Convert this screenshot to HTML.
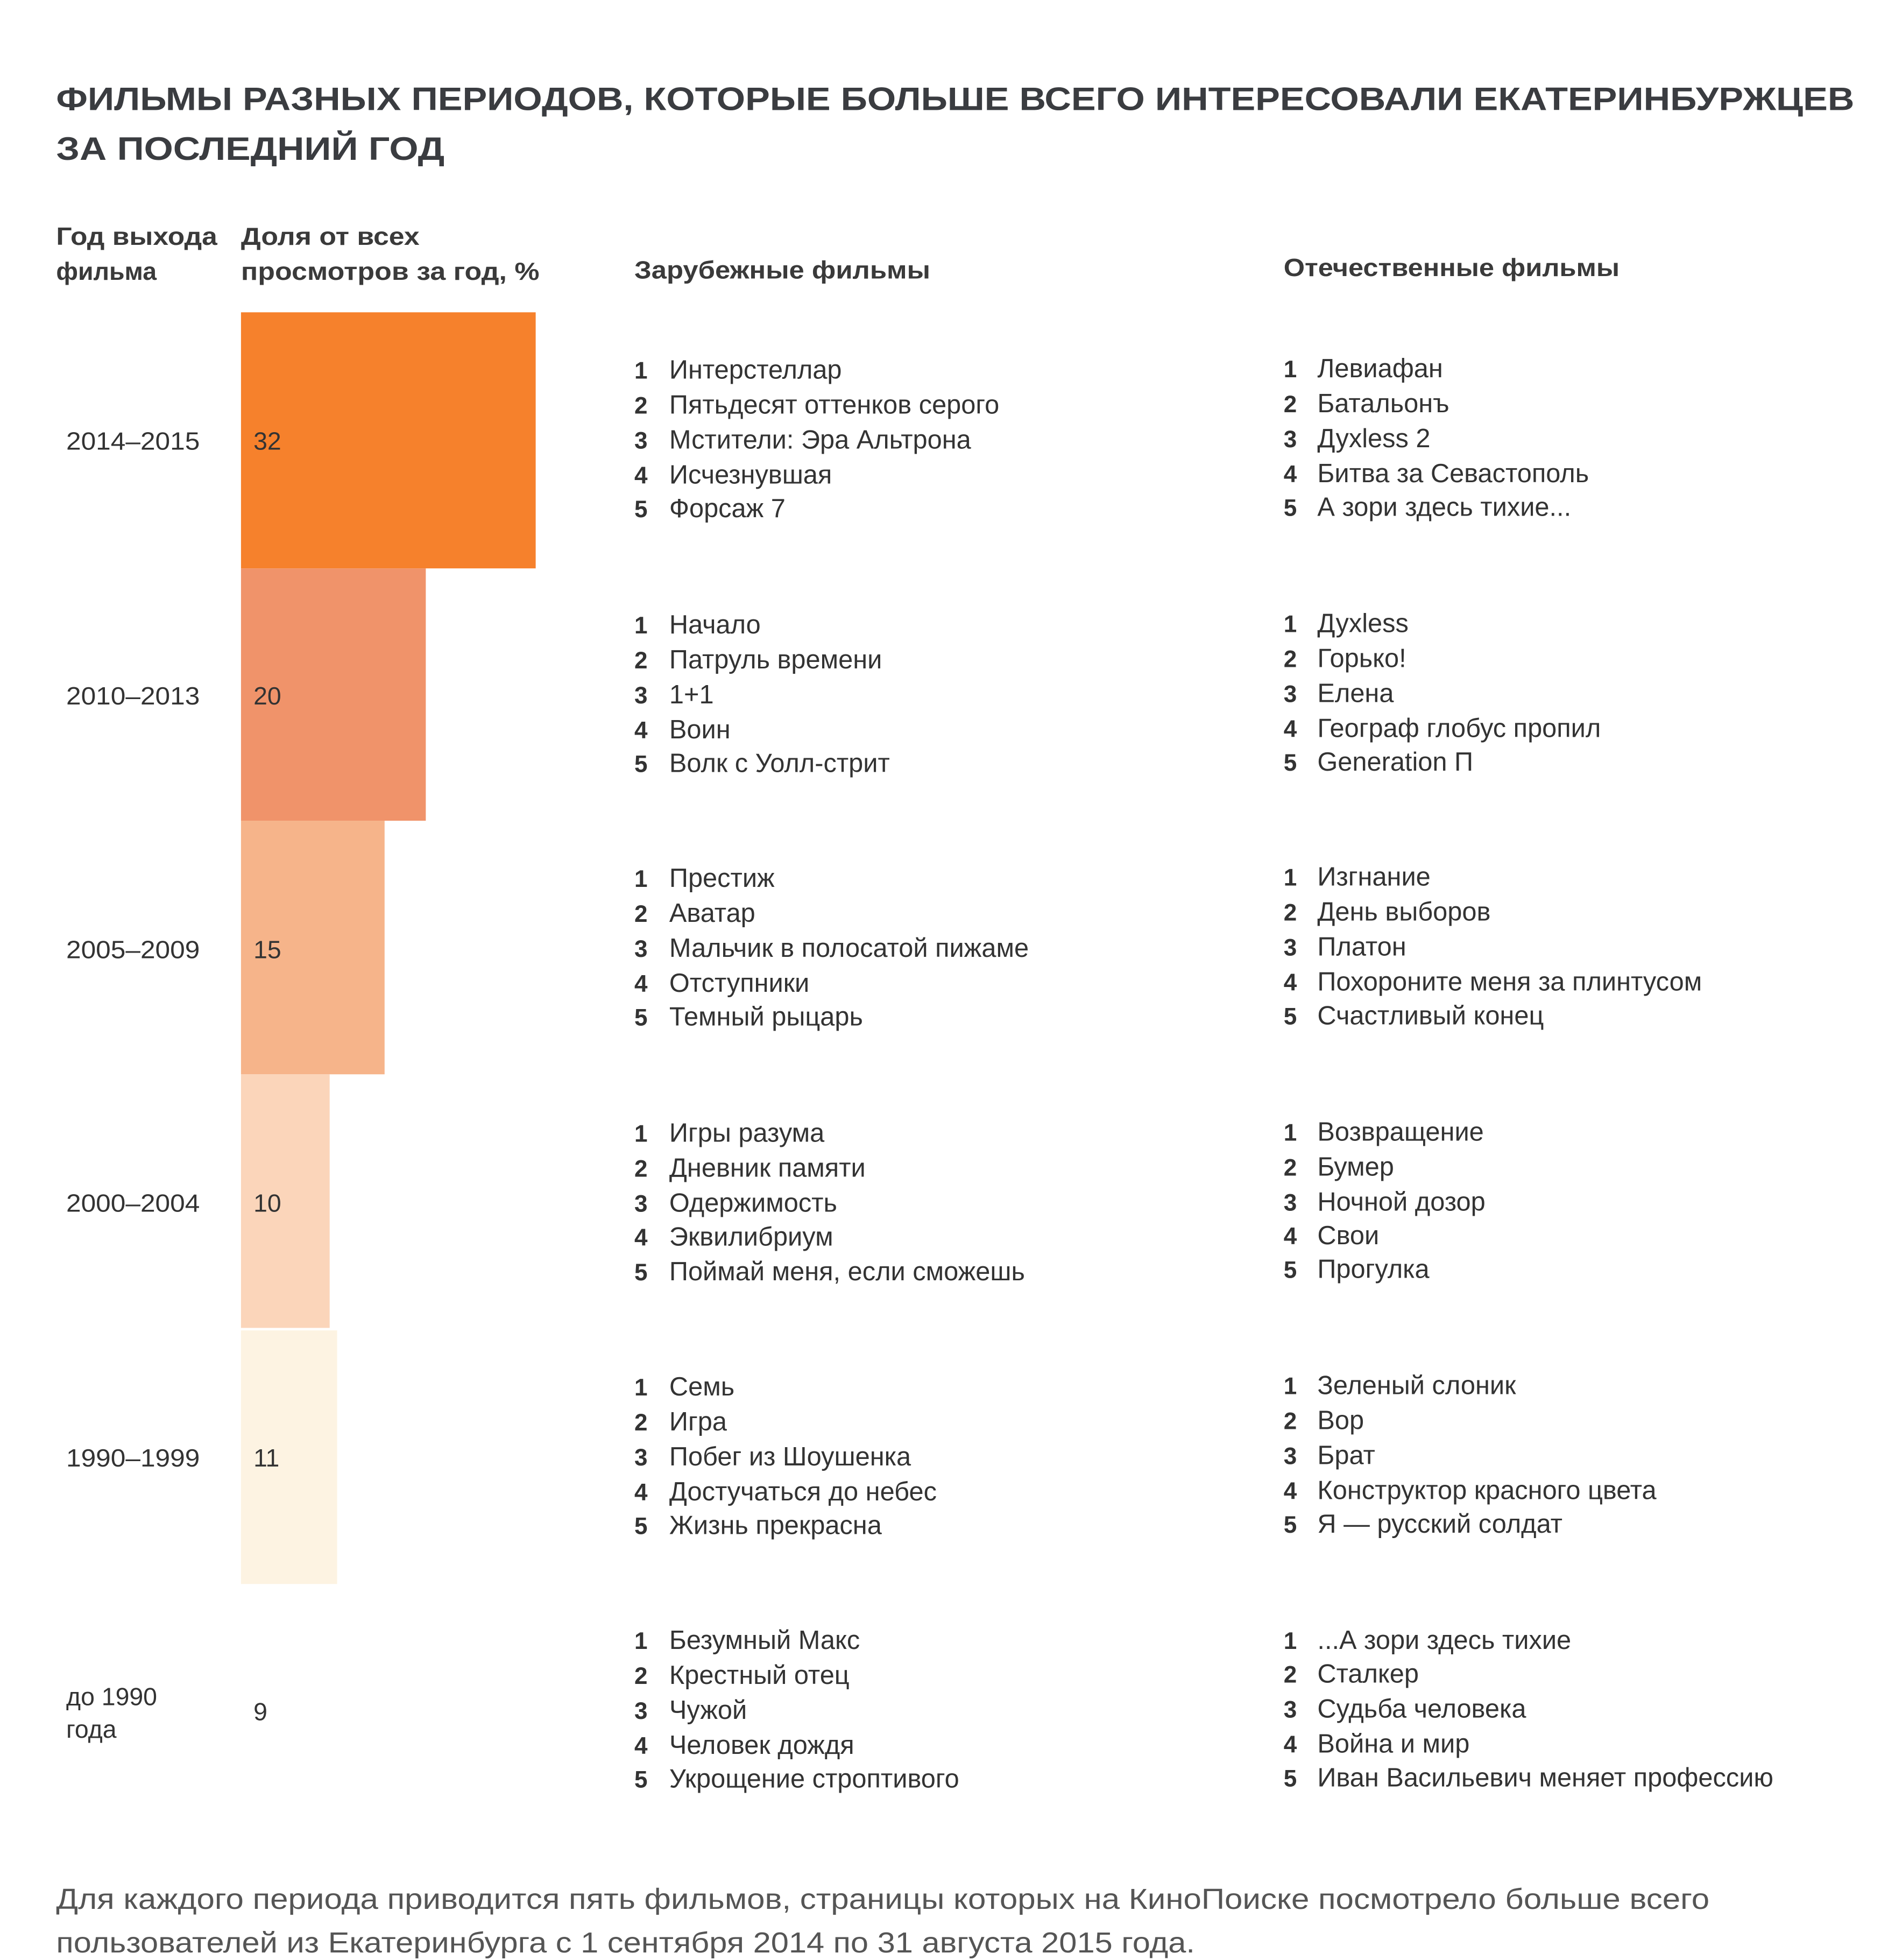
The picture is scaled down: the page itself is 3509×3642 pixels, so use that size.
<!DOCTYPE html>
<html><head><meta charset="utf-8"><style>html,body{margin:0;padding:0;background:#fff}svg{display:block}</style></head>
<body>
<svg width="3509" height="3642" viewBox="0 0 1512 1569" preserveAspectRatio="none" xmlns="http://www.w3.org/2000/svg" font-family="'Liberation Sans', 'DejaVu Sans', sans-serif">
<rect width="1512" height="1569" fill="#fff"/>
<g fill="#3a3c40" font-weight="bold" font-size="26">
<text x="45" y="88" textLength="1440" lengthAdjust="spacingAndGlyphs">ФИЛЬМЫ РАЗНЫХ ПЕРИОДОВ, КОТОРЫЕ БОЛЬШЕ ВСЕГО ИНТЕРЕСОВАЛИ ЕКАТЕРИНБУРЖЦЕВ</text>
<text x="45" y="128" textLength="311" lengthAdjust="spacingAndGlyphs">ЗА ПОСЛЕДНИЙ ГОД</text>
</g>
<g fill="#3a3a3a" font-weight="bold" font-size="20">
<text x="45" y="196" textLength="129" lengthAdjust="spacingAndGlyphs">Год выхода</text>
<text x="45" y="224">фильма</text>
<text x="193" y="196" textLength="143" lengthAdjust="spacingAndGlyphs">Доля от всех</text>
<text x="193" y="224" textLength="239" lengthAdjust="spacingAndGlyphs">просмотров за год, %</text>
<text x="508" y="223" textLength="237" lengthAdjust="spacingAndGlyphs">Зарубежные фильмы</text>
<text x="1028" y="221" textLength="269" lengthAdjust="spacingAndGlyphs">Отечественные фильмы</text>
</g>
<rect x="193" y="250" width="236" height="205" fill="#f6812c"/>
<rect x="193" y="455" width="148" height="202" fill="#f0936a"/>
<rect x="193" y="657" width="115" height="203" fill="#f6b48a"/>
<rect x="193" y="860" width="71" height="203" fill="#fbd5ba"/>
<rect x="193" y="1065" width="77" height="203" fill="#fdf3e2"/>
<g fill="#333" font-size="20">
<text x="53" y="360" textLength="107" lengthAdjust="spacingAndGlyphs">2014–2015</text>
<text x="53" y="564" textLength="107" lengthAdjust="spacingAndGlyphs">2010–2013</text>
<text x="53" y="767" textLength="107" lengthAdjust="spacingAndGlyphs">2005–2009</text>
<text x="53" y="970" textLength="107" lengthAdjust="spacingAndGlyphs">2000–2004</text>
<text x="53" y="1174" textLength="107" lengthAdjust="spacingAndGlyphs">1990–1999</text>
<text x="53" y="1365">до 1990</text>
<text x="53" y="1391">года</text>
<text x="203" y="360">32</text>
<text x="203" y="564">20</text>
<text x="203" y="767">15</text>
<text x="203" y="970">10</text>
<text x="203" y="1174">11</text>
<text x="203" y="1377">9</text>
</g>
<g fill="#333" font-size="21">
<g font-weight="bold" font-size="19">
<text x="508" y="303">1</text><text x="508" y="331">2</text><text x="508" y="359">3</text><text x="508" y="387">4</text><text x="508" y="414">5</text>
<text x="508" y="507">1</text><text x="508" y="535">2</text><text x="508" y="563">3</text><text x="508" y="591">4</text><text x="508" y="618">5</text>
<text x="508" y="710">1</text><text x="508" y="738">2</text><text x="508" y="766">3</text><text x="508" y="794">4</text><text x="508" y="821">5</text>
<text x="508" y="914">1</text><text x="508" y="942">2</text><text x="508" y="970">3</text><text x="508" y="997">4</text><text x="508" y="1025">5</text>
<text x="508" y="1117">1</text><text x="508" y="1145">2</text><text x="508" y="1173">3</text><text x="508" y="1201">4</text><text x="508" y="1228">5</text>
<text x="508" y="1320">1</text><text x="508" y="1348">2</text><text x="508" y="1376">3</text><text x="508" y="1404">4</text><text x="508" y="1431">5</text>
<text x="1028" y="302">1</text><text x="1028" y="330">2</text><text x="1028" y="358">3</text><text x="1028" y="386">4</text><text x="1028" y="413">5</text>
<text x="1028" y="506">1</text><text x="1028" y="534">2</text><text x="1028" y="562">3</text><text x="1028" y="590">4</text><text x="1028" y="617">5</text>
<text x="1028" y="709">1</text><text x="1028" y="737">2</text><text x="1028" y="765">3</text><text x="1028" y="793">4</text><text x="1028" y="820">5</text>
<text x="1028" y="913">1</text><text x="1028" y="941">2</text><text x="1028" y="969">3</text><text x="1028" y="996">4</text><text x="1028" y="1023">5</text>
<text x="1028" y="1116">1</text><text x="1028" y="1144">2</text><text x="1028" y="1172">3</text><text x="1028" y="1200">4</text><text x="1028" y="1227">5</text>
<text x="1028" y="1320">1</text><text x="1028" y="1347">2</text><text x="1028" y="1375">3</text><text x="1028" y="1403">4</text><text x="1028" y="1430">5</text>
</g>
<text x="536" y="303">Интерстеллар</text><text x="536" y="331">Пятьдесят оттенков серого</text><text x="536" y="359">Мстители: Эра Альтрона</text><text x="536" y="387">Исчезнувшая</text><text x="536" y="414">Форсаж 7</text>
<text x="536" y="507">Начало</text><text x="536" y="535">Патруль времени</text><text x="536" y="563">1+1</text><text x="536" y="591">Воин</text><text x="536" y="618">Волк с Уолл-стрит</text>
<text x="536" y="710">Престиж</text><text x="536" y="738">Аватар</text><text x="536" y="766">Мальчик в полосатой пижаме</text><text x="536" y="794">Отступники</text><text x="536" y="821">Темный рыцарь</text>
<text x="536" y="914">Игры разума</text><text x="536" y="942">Дневник памяти</text><text x="536" y="970">Одержимость</text><text x="536" y="997">Эквилибриум</text><text x="536" y="1025">Поймай меня, если сможешь</text>
<text x="536" y="1117">Семь</text><text x="536" y="1145">Игра</text><text x="536" y="1173">Побег из Шоушенка</text><text x="536" y="1201">Достучаться до небес</text><text x="536" y="1228">Жизнь прекрасна</text>
<text x="536" y="1320">Безумный Макс</text><text x="536" y="1348">Крестный отец</text><text x="536" y="1376">Чужой</text><text x="536" y="1404">Человек дождя</text><text x="536" y="1431">Укрощение строптивого</text>
<text x="1055" y="302">Левиафан</text><text x="1055" y="330">Батальонъ</text><text x="1055" y="358">Духless 2</text><text x="1055" y="386">Битва за Севастополь</text><text x="1055" y="413">А зори здесь тихие...</text>
<text x="1055" y="506">Духless</text><text x="1055" y="534">Горько!</text><text x="1055" y="562">Елена</text><text x="1055" y="590">Географ глобус пропил</text><text x="1055" y="617">Generation П</text>
<text x="1055" y="709">Изгнание</text><text x="1055" y="737">День выборов</text><text x="1055" y="765">Платон</text><text x="1055" y="793">Похороните меня за плинтусом</text><text x="1055" y="820">Счастливый конец</text>
<text x="1055" y="913">Возвращение</text><text x="1055" y="941">Бумер</text><text x="1055" y="969">Ночной дозор</text><text x="1055" y="996">Свои</text><text x="1055" y="1023">Прогулка</text>
<text x="1055" y="1116">Зеленый слоник</text><text x="1055" y="1144">Вор</text><text x="1055" y="1172">Брат</text><text x="1055" y="1200">Конструктор красного цвета</text><text x="1055" y="1227">Я — русский солдат</text>
<text x="1055" y="1320">...А зори здесь тихие</text><text x="1055" y="1347">Сталкер</text><text x="1055" y="1375">Судьба человека</text><text x="1055" y="1403">Война и мир</text><text x="1055" y="1430">Иван Васильевич меняет профессию</text>
</g>
<g fill="#555" font-size="23">
<text x="45" y="1528" textLength="1324" lengthAdjust="spacingAndGlyphs">Для каждого периода приводится пять фильмов, страницы которых на КиноПоиске посмотрело больше всего</text>
<text x="45" y="1563" textLength="912" lengthAdjust="spacingAndGlyphs">пользователей из Екатеринбурга с 1 сентября 2014 по 31 августа 2015 года.</text>
</g>
</svg>
</body></html>
